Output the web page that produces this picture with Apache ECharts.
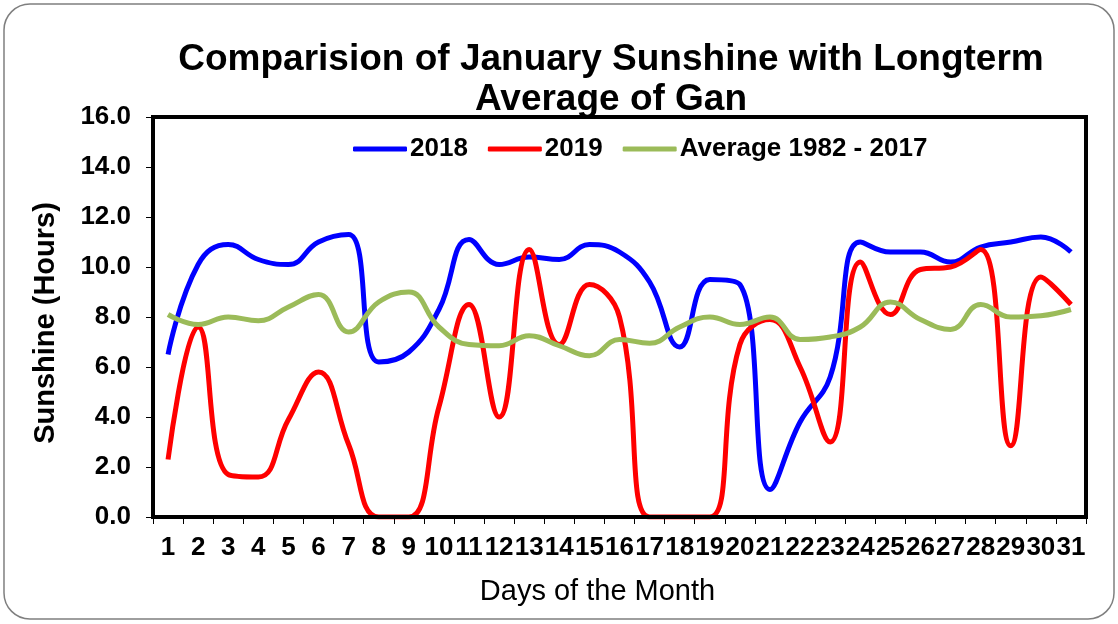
<!DOCTYPE html>
<html>
<head>
<meta charset="utf-8">
<script src="https://cdn.jsdelivr.net/npm/echarts@6/dist/echarts.min.js"></script>
<style>
  html, body { margin: 0; padding: 0; background: #fff; }
  #chart { width: 1118px; height: 624px; }
</style>
</head>
<body>
<div id="chart"></div>
<script>
// days of January
var days = [];
for (var d = 1; d <= 31; d++) { days.push(String(d)); }

// sunshine hours
var sun2018 = [6.5, 10.1, 10.9, 10.3, 10.1, 11.0, 11.3, 6.2, 6.6, 8.3,
               11.1, 10.1, 10.4, 10.3, 10.9, 10.6, 9.4, 6.8, 9.5, 9.3,
               1.1, 3.8, 5.6, 11.0, 10.6, 10.6, 10.2, 10.8, 11.0, 11.2, 10.6];
var sun2019 = [2.3, 7.6, 1.7, 1.6, 3.9, 5.8, 2.9, 0.0, 0.0, 4.4,
               8.5, 4.0, 10.7, 6.9, 9.3, 8.0, 0.0, 0.0, 0.0, 6.9,
               7.9, 6.0, 3.0, 10.2, 8.1, 9.9, 10.0, 10.7, 2.85, 9.6, 8.5];
var sunAvg = [8.1, 7.7, 8.0, 7.85, 8.4, 8.9, 7.4, 8.6, 9.0, 7.6,
              6.9, 6.85, 7.25, 6.85, 6.45, 7.1, 6.95, 7.6, 8.0, 7.7,
              8.0, 7.1, 7.2, 7.6, 8.6, 7.9, 7.5, 8.5, 8.0, 8.05, 8.3];

var seriesNames = ["2018", "2019", "Average 1982 - 2017"];
var seriesColors = ["#0000ff", "#ff0000", "#9bbb59"];

var font = "'Liberation Sans', Arial, sans-serif";
var chart = echarts.init(document.getElementById("chart"));

function lineSeries(name, data, color) {
    return {
        name: name,
        type: "line",
        data: data,
        smooth: 0.45,
        symbol: "none",
        z: 2,
        lineStyle: { color: color, width: 5 },
        itemStyle: { color: color }
    };
}

chart.setOption({
    animation: false,
    backgroundColor: "#fff",
    graphic: [{
        type: "rect",
        shape: { x: 4, y: 4, width: 1110, height: 615, r: 26 },
        style: { fill: "none", stroke: "#7f7f7f", lineWidth: 1.5 },
        silent: true
    }],
    title: {
        text: "Comparision of January Sunshine with Longterm\nAverage of Gan",
        left: 606,
        top: 35,
        textAlign: "center",
        textStyle: {
            fontFamily: font,
            fontSize: 37,
            fontWeight: "bold",
            color: "#000",
            lineHeight: 40
        }
    },
    legend: {
        left: 348,
        top: 131,
        itemGap: 20,
        itemWidth: 54,
        itemHeight: 5,
        icon: "roundRect",
        data: seriesNames,
        textStyle: {
            fontFamily: font,
            fontSize: 26,
            fontWeight: "bold",
            color: "#000",
            padding: [0, 0, 0, -2]
        }
    },
    grid: {
        left: 153,
        right: 32,
        top: 117,
        bottom: 107,
        show: true,
        borderColor: "#000",
        borderWidth: 4,
        backgroundColor: "transparent"
    },
    xAxis: {
        type: "category",
        data: days,
        boundaryGap: true,
        z: 5,
        name: "Days of the Month",
        nameLocation: "middle",
        nameGap: 75,
        nameTextStyle: {
            fontFamily: font,
            fontSize: 29,
            color: "#000",
            verticalAlign: "middle",
            padding: [0, 44, 0, 0]
        },
        axisLine: { lineStyle: { color: "#000", width: 4 } },
        axisTick: { show: true, inside: false, length: 7, lineStyle: { color: "#000", width: 1 } },
        axisLabel: {
            interval: 0,
            margin: 18,
            fontFamily: font,
            fontSize: 26,
            fontWeight: "bold",
            color: "#000"
        },
        splitLine: { show: false }
    },
    yAxis: {
        type: "value",
        min: 0,
        max: 16,
        interval: 2,
        z: 5,
        name: "Sunshine (Hours)",
        nameLocation: "middle",
        nameGap: 93,
        nameRotate: 90,
        nameTextStyle: {
            fontFamily: font,
            fontSize: 29,
            fontWeight: "bold",
            color: "#000",
            padding: [0, 12, 0, 0]
        },
        axisLine: { show: true, lineStyle: { color: "#000", width: 4 } },
        axisTick: { show: true, inside: false, length: 7, lineStyle: { color: "#000", width: 1 } },
        axisLabel: {
            margin: 22,
            fontFamily: font,
            fontSize: 26,
            fontWeight: "bold",
            color: "#000",
            formatter: function (v) { return v.toFixed(1); }
        },
        splitLine: { show: false }
    },
    series: [
        lineSeries(seriesNames[0], sun2018, seriesColors[0]),
        lineSeries(seriesNames[1], sun2019, seriesColors[1]),
        lineSeries(seriesNames[2], sunAvg, seriesColors[2])
    ]
});
</script>
</body>
</html>
